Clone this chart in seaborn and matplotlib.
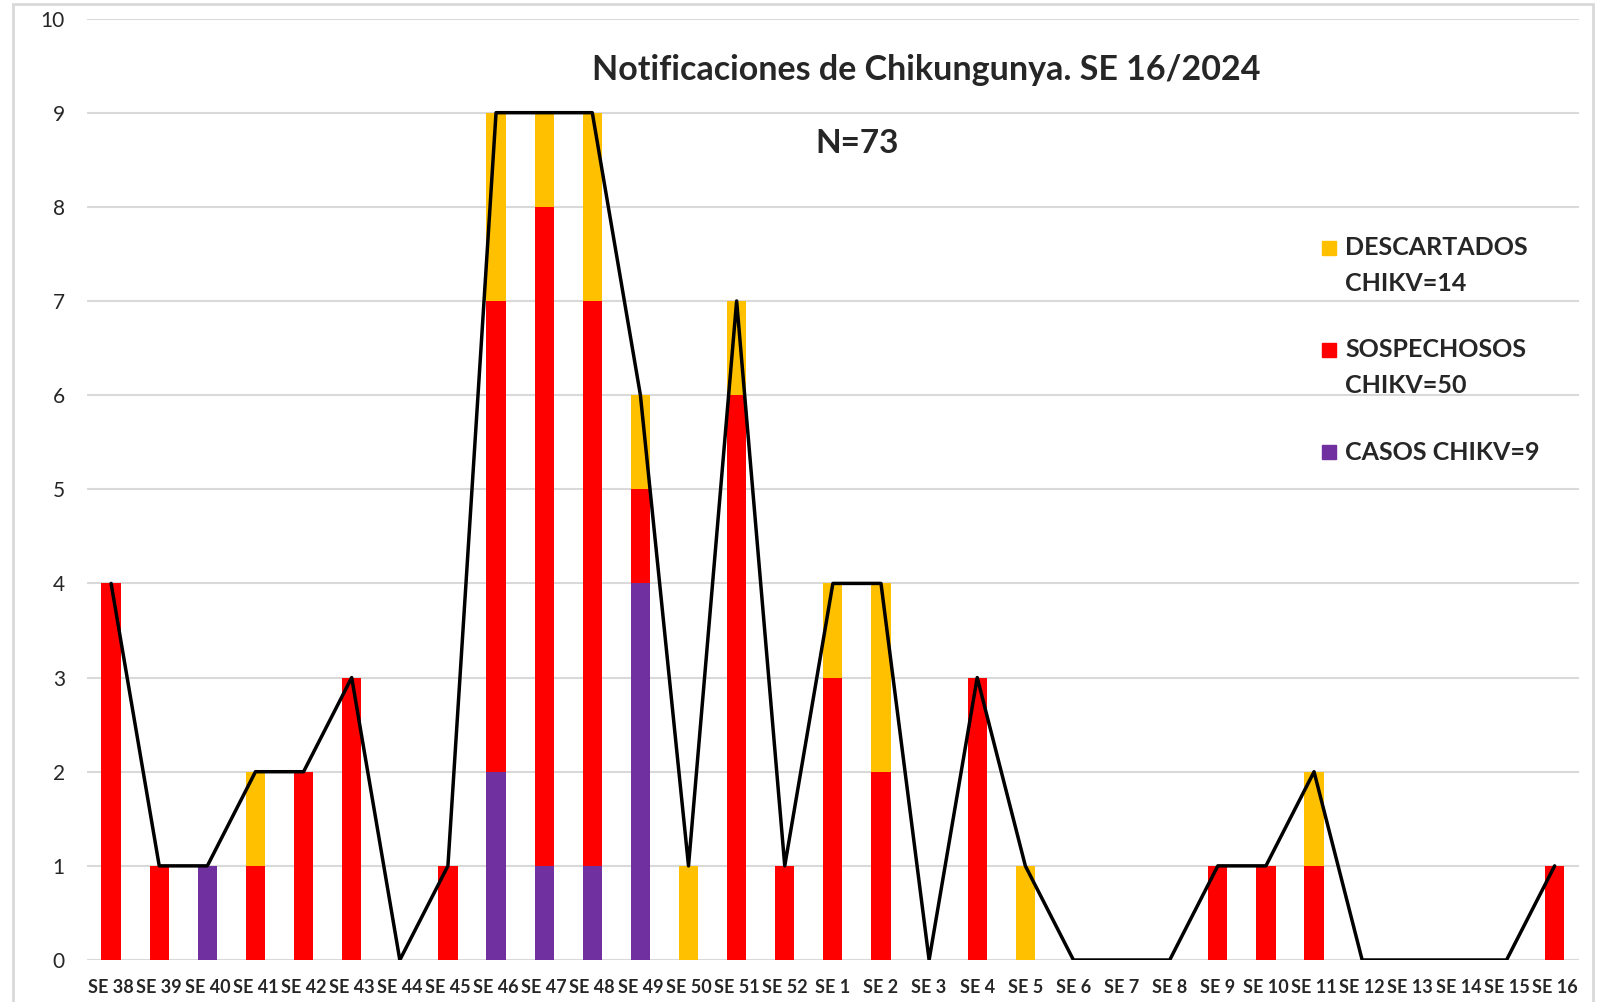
import numpy as np
import pandas as pd
import matplotlib
matplotlib.use("Agg")
import matplotlib.pyplot as plt
import seaborn as sns

# weekly counts
semanas = ["SE 38", "SE 39", "SE 40", "SE 41", "SE 42", "SE 43", "SE 44", "SE 45",
           "SE 46", "SE 47", "SE 48", "SE 49", "SE 50", "SE 51", "SE 52", "SE 1",
           "SE 2", "SE 3", "SE 4", "SE 5", "SE 6", "SE 7", "SE 8", "SE 9",
           "SE 10", "SE 11", "SE 12", "SE 13", "SE 14", "SE 15", "SE 16"]
casos = [0, 0, 1, 0, 0, 0, 0, 0, 2, 1, 1, 4, 0, 0, 0, 0,
         0, 0, 0, 0, 0, 0, 0, 0, 0, 0, 0, 0, 0, 0, 0]
sospechosos = [4, 1, 0, 1, 2, 3, 0, 1, 5, 7, 6, 1, 0, 6, 1, 3,
               2, 0, 3, 0, 0, 0, 0, 1, 1, 1, 0, 0, 0, 0, 1]
descartados = [0, 0, 0, 1, 0, 0, 0, 0, 2, 1, 2, 1, 1, 1, 0, 1,
               2, 0, 0, 1, 0, 0, 0, 0, 0, 1, 0, 0, 0, 0, 0]

colores = {"desc": "#FFC000", "sosp": "#FF0000", "casos": "#7030A0"}
leyenda = [("desc", ["DESCARTADOS", "CHIKV=14"]),
           ("sosp", ["SOSPECHOSOS", "CHIKV=50"]),
           ("casos", ["CASOS CHIKV=9"])]

data = pd.DataFrame({"semana": semanas, "casos": casos,
                     "sospechosos": sospechosos, "descartados": descartados})
data["nivel_rojo"] = data["casos"] + data["sospechosos"]
data["total"] = data["nivel_rojo"] + data["descartados"]

sns.set_style("white")
plt.rcParams["font.family"] = ["Lato", "DejaVu Sans"]

fig = plt.figure(figsize=(16.06, 10.02), dpi=100)
ax = fig.add_axes([0.0542, 0.0419, 0.9288, 0.9396])

# stacked bars: draw cumulative heights, tallest first
for col, key in [("total", "desc"), ("nivel_rojo", "sosp"), ("casos", "casos")]:
    sns.barplot(data=data, x="semana", y=col, color=colores[key], saturation=1,
                width=0.4, errorbar=None, linewidth=0, ax=ax, zorder=2)

# total line
sns.lineplot(x=np.arange(len(data)), y=data["total"], color="black",
             linewidth=2.5, ax=ax, zorder=3)

ax.set_xlim(-0.5, len(data) - 0.5)
ax.set_ylim(0, 10)
ax.set_yticks(range(0, 11))
ax.yaxis.grid(True, color="#D9D9D9", linewidth=1.5, zorder=0)
ax.set_axisbelow(True)
for s in ax.spines.values():
    s.set_visible(False)
ax.set_xlabel("")
ax.set_ylabel("")
ax.tick_params(axis="y", length=0, labelsize=15, pad=16)
ax.tick_params(axis="x", length=0, pad=14)
for lab in ax.get_xticklabels():
    lab.set_fontsize(13)
    lab.set_fontweight("bold")

fig.text(0.577, 0.930, "Notificaciones de Chikungunya. SE 16/2024",
         ha="center", va="center", fontsize=24.5, fontweight="bold")
fig.text(0.534, 0.857, "N=73", ha="center", va="center",
         fontsize=24, fontweight="bold")

# legend, laid out like the original (square beside first line)
y_top = 0.7525
for key, lineas in leyenda:
    fig.patches.append(plt.Rectangle((0.8232, y_top - 0.007), 0.0087, 0.014,
                                     color=colores[key], transform=fig.transFigure))
    for i, linea in enumerate(lineas):
        fig.text(0.8375, y_top - i * 0.0359, linea, ha="left", va="center",
                 fontsize=18, fontweight="bold")
    y_top -= 0.1018

# light border round the chart
fig.patches.append(plt.Rectangle((0.008, -0.01), 0.984, 1.006, fill=False,
                                 edgecolor="#D9D9D9", linewidth=2,
                                 transform=fig.transFigure))

fig.savefig("out.png", dpi=100)
